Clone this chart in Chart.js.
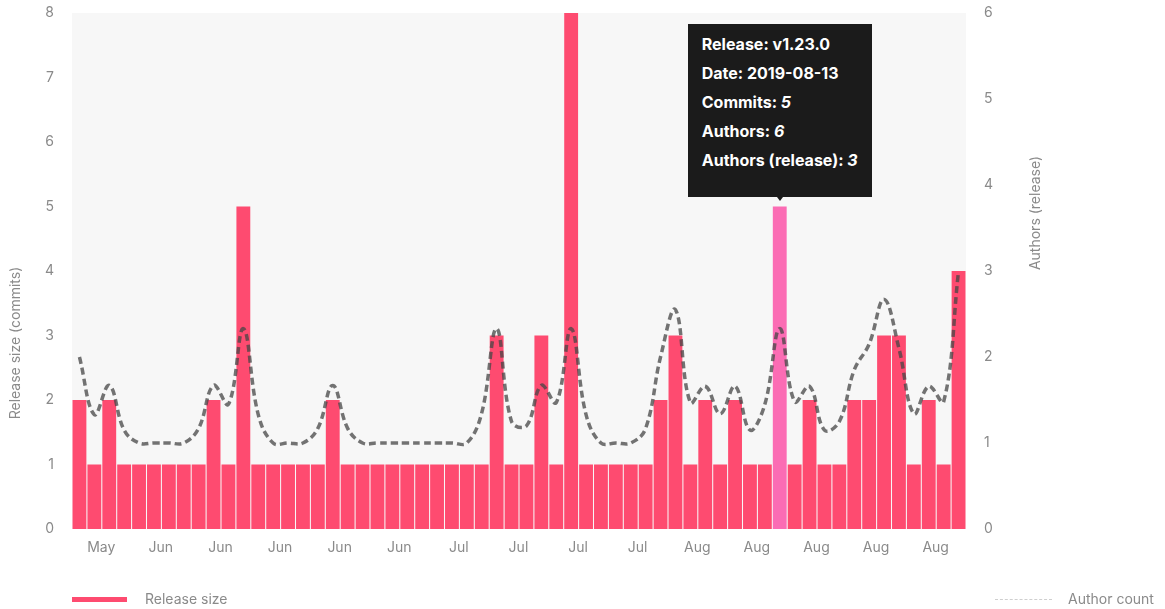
<!DOCTYPE html>
<html>
<head>
<meta charset="utf-8">
<script src="https://cdn.jsdelivr.net/npm/chart.js@4"></script>
<style>
  body { margin: 0; background: #fff; font-family: Inter, "Noto Sans", sans-serif; }
  #wrap { position: relative; width: 1165px; height: 609px; }
  .legend-text { position: absolute; top: 590px; font-size: 14px; color: #8a8a8a; line-height: 18px; }
  #tip { position: absolute; background: #1b1b1b; color: #fff; font-weight: 700; font-size: 16px;
         line-height: 29px; padding: 6px 14px 22px 14px; white-space: nowrap; pointer-events: none; opacity: 0; }
  #tip i { font-style: italic; }
  #tip .caret { position: absolute; left: 50%; bottom: -4px; margin-left: -3px; width: 0; height: 0;
         border-left: 3px solid transparent; border-right: 3px solid transparent; border-top: 4px solid #1b1b1b; }
</style>
</head>
<body>
<div id="wrap">
  <canvas id="releaseChart"></canvas>
  <div style="position:absolute;left:72px;top:597px;width:55px;height:5px;background:#fe4b70"></div>
  <div class="legend-text" style="left:145px">Release size</div>
  <div style="position:absolute;left:995px;top:599px;width:57px;border-top:1px dashed #cfcfcf"></div>
  <div class="legend-text" style="left:1068px">Author count</div>
  <div id="tip"></div>
</div>
<script>
const categories = [
  'May','May','May','May','May','May',
  'Jun','Jun','Jun','Jun','Jun','Jun','Jun','Jun','Jun','Jun','Jun','Jun','Jun','Jun','Jun','Jun','Jun','Jun','Jun','Jun',
  'Jul','Jul','Jul','Jul','Jul','Jul','Jul','Jul','Jul','Jul','Jul','Jul','Jul','Jul','Jul','Jul',
  'Aug','Aug','Aug','Aug','Aug','Aug','Aug','Aug','Aug','Aug','Aug','Aug','Aug','Aug','Aug','Aug','Aug','Aug'
];

const releaseSize = [
  2, 1, 2, 1, 1, 1, 1, 1, 1, 2,
  1, 5, 1, 1, 1, 1, 1, 2, 1, 1,
  1, 1, 1, 1, 1, 1, 1, 1, 3, 1,
  1, 3, 1, 8, 1, 1, 1, 1, 1, 2,
  3, 1, 2, 1, 2, 1, 1, 5, 1, 2,
  1, 1, 2, 2, 3, 3, 1, 2, 1, 4
];

const authorCount = [
  2.0, 1.33, 1.67, 1.15, 1, 1, 1, 1, 1.17, 1.67,
  1.45, 2.33, 1.33, 1, 1, 1, 1.17, 1.67, 1.17, 1,
  1, 1, 1, 1, 1, 1, 1, 1.35, 2.33, 1.25,
  1.2, 1.67, 1.47, 2.33, 1.33, 1, 1, 1, 1.17, 2.0,
  2.55, 1.47, 1.66, 1.34, 1.66, 1.15, 1.45, 2.33, 1.48, 1.66,
  1.15, 1.25, 1.85, 2.15, 2.67, 2.1, 1.34, 1.66, 1.48, 3.0
];

// the release shown in the tooltip
const activeIndex = 47;
const activeRelease = 'v1.23.0';
const activeDate = '2019-08-13';
const activeAuthors = 6;
const activeReleaseAuthors = 3;

const gray = '#8a8a8a';
const tickFont = { family: 'Inter, "Noto Sans", sans-serif', size: 14 };

const plotBackground = {
  id: 'plotBackground',
  beforeDraw(chart) {
    const { ctx, chartArea } = chart;
    ctx.save();
    ctx.fillStyle = '#f7f7f7';
    ctx.fillRect(chartArea.left, chartArea.top, chartArea.right - chartArea.left, chartArea.bottom - chartArea.top);
    ctx.restore();
  }
};

// both axis titles read bottom-to-top, like the original
const axisTitles = {
  id: 'axisTitles',
  afterDraw(chart) {
    const ctx = chart.ctx;
    const drawTitle = (text, x, y) => {
      ctx.save();
      ctx.translate(x, y);
      ctx.rotate(-Math.PI / 2);
      ctx.font = '14px Inter, "Noto Sans", sans-serif';
      ctx.fillStyle = gray;
      ctx.textAlign = 'center';
      ctx.textBaseline = 'middle';
      ctx.fillText(text, 0, 0);
      ctx.restore();
    };
    drawTitle('Release size (commits)', 16, 343);
    drawTitle('Authors (release)', 1036, 213);
  }
};

function externalTooltip(context) 
{
  const tip = document.getElementById('tip');
  const tooltip = context.tooltip;
  if (tooltip.opacity === 0) { tip.style.opacity = 0; return; }
  const i = tooltip.dataPoints[0].dataIndex;
  tip.innerHTML = `
    <div>Release: ${activeRelease}</div>
    <div>Date: ${activeDate}</div>
    <div>Commits: <i>${releaseSize[i]}</i></div>
    <div>Authors: <i>${activeAuthors}</i></div>
    <div>Authors (release): <i>${activeReleaseAuthors}</i></div>
    <span class="caret"></span>`;
  tip.style.opacity = 1;
  tip.style.left = (tooltip.caretX - tip.offsetWidth / 2) + 'px';
  tip.style.top = (tooltip.caretY - tip.offsetHeight - 10) + 'px';
}

// fixed axis widths, and no extra room above the top tick label
function fitVertical(width) 
{
  return scale => {
    scale.width = width;
    scale.paddingTop = 0;
    scale.paddingBottom = 0;
  };
}

const chart = new Chart(document.getElementById('releaseChart'), {
  data: {
    labels: categories,
    datasets: [
      {
        type: 'bar',
        label: 'Release size',
        data: releaseSize,
        yAxisID: 'y',
        order: 1,
        backgroundColor: '#fe4b70',
        hoverBackgroundColor: '#fb6cb4',
        barPercentage: 0.93,
        categoryPercentage: 1
      },
      {
        type: 'line',
        label: 'Author count',
        data: authorCount,
        yAxisID: 'y1',
        order: 0,
        borderColor: 'rgba(70, 70, 70, 0.75)',
        borderWidth: 3.5,
        borderDash: [7, 4],
        pointRadius: 0,
        pointHoverRadius: 0,
        tension: 0.4,
        fill: false
      }
    ]
  },
  options: {
    responsive: true,
    maintainAspectRatio: false,
    animation: false,
    events: [],
    layout: { padding: { top: 13, left: 0, right: 0, bottom: 0 } },
    plugins: {
      legend: { display: false },
      tooltip: { enabled: false, external: externalTooltip, mode: 'nearest' }
    },
    scales: {
      x: {
        grid: { display: false },
        border: { display: false },
        ticks: {
          color: gray,
          font: tickFont,
          autoSkip: false,
          maxRotation: 0,
          padding: 2,
          labelOffset: -8,
          callback(value, index) { return index % 4 === 2 ? this.getLabelForValue(value) : ''; }
        },
        afterFit(scale) { scale.height = 80; }
      },
      y: {
        position: 'left',
        min: 0,
        max: 8,
        grid: { display: false },
        border: { display: false },
        ticks: { stepSize: 1, color: gray, font: tickFont, padding: 10 },
        afterFit: fitVertical(72)
      },
      y1: {
        position: 'right',
        min: 0,
        max: 6,
        grid: { display: false },
        border: { display: false },
        ticks: { stepSize: 1, color: gray, font: tickFont, padding: 10 },
        afterFit: fitVertical(199)
      }
    }
  },
  plugins: [plotBackground, axisTitles]
});

const active = [{ datasetIndex: 0, index: activeIndex }];
chart.setActiveElements(active);
chart.tooltip.setActiveElements(active, { x: 0, y: 0 });
chart.update();
</script>
</body>
</html>
